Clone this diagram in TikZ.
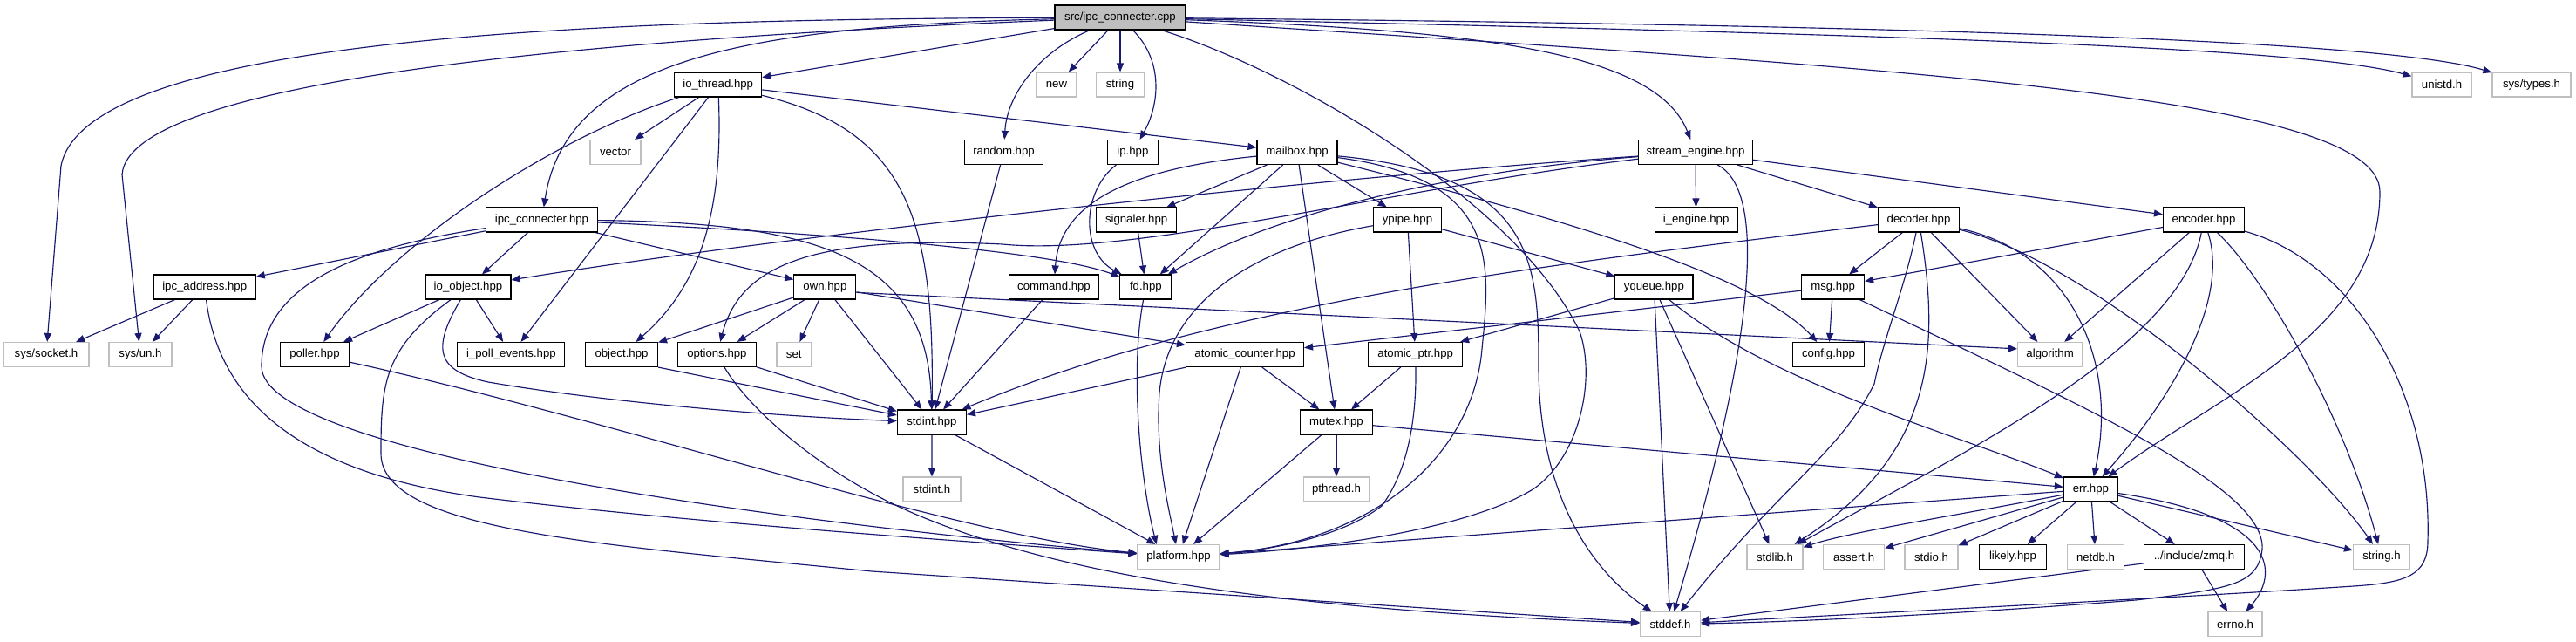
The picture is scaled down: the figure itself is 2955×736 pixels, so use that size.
\documentclass[tikz,border=0pt]{standalone}
\usepackage{fontspec}
\setmainfont{Liberation Sans}
\usetikzlibrary{arrows.meta,backgrounds}
\definecolor{edgec}{HTML}{191970}
\definecolor{sysc}{HTML}{BFBFBF}
\begin{document}
\begin{tikzpicture}[x=1pt,y=-1pt,
  box/.style={draw=black, line width=1.15pt, fill=white, minimum height=28pt, inner sep=0pt,
              font=\fontsize{13.2}{15}\selectfont},
  sys/.style={box, draw=sysc},
  root/.style={box, fill=sysc},
  e/.style={draw=edgec, line width=1.15pt, -{Triangle[length=10pt,width=8pt]}},
]
\useasboundingbox (0,0) rectangle (2955,736);
% row 0
\node[root, minimum width=150pt] (src) at (1285,20) {src/ipc\_connecter.cpp};
% row 1
\node[box, minimum width=100pt] (iothread) at (823.7,97) {io\_thread.hpp};
\node[sys, minimum width=46pt] (new) at (1212,97) {new};
\node[sys, minimum width=55pt] (string) at (1285,97) {string};
\node[sys, minimum width=68pt] (unistd) at (2801,97) {unistd.h};
\node[sys, minimum width=90pt] (systypes) at (2904,97) {sys/types.h};
% row 2
\node[sys, minimum width=58pt] (vector) at (706,174.5) {vector};
\node[box, minimum width=90pt] (random) at (1151.5,174.5) {random.hpp};
\node[box, minimum width=58pt] (ip) at (1299.4,174.5) {ip.hpp};
\node[box, minimum width=92pt] (mailbox) at (1488,174.5) {mailbox.hpp};
\node[box, minimum width=131pt] (streameng) at (1945,174.5) {stream\_engine.hpp};
% row 3
\node[box, minimum width=128pt] (ipcconnhpp) at (621.5,252) {ipc\_connecter.hpp};
\node[box, minimum width=92pt] (signaler) at (1303.6,252) {signaler.hpp};
\node[box, minimum width=78pt] (ypipe) at (1614.5,252) {ypipe.hpp};
\node[box, minimum width=95pt] (iengine) at (1945.6,252) {i\_engine.hpp};
\node[box, minimum width=93pt] (decoder) at (2201,252) {decoder.hpp};
\node[box, minimum width=93pt] (encoder) at (2528,252) {encoder.hpp};
% row 4
\node[box, minimum width=117pt] (ipcaddr) at (234.7,329) {ipc\_address.hpp};
\node[box, minimum width=98pt] (ioobject) at (537,329) {io\_object.hpp};
\node[box, minimum width=71pt] (own) at (946.4,329) {own.hpp};
\node[box, minimum width=103pt] (command) at (1209,329) {command.hpp};
\node[box, minimum width=59pt] (fd) at (1314.4,329) {fd.hpp};
\node[box, minimum width=89pt] (yqueue) at (1897.4,329) {yqueue.hpp};
\node[box, minimum width=72pt] (msg) at (2102.6,329) {msg.hpp};
% row 5
\node[sys, minimum width=98pt] (syssocket) at (53,406.5) {sys/socket.h};
\node[sys, minimum width=72pt] (sysun) at (161,406.5) {sys/un.h};
\node[box, minimum width=79pt] (poller) at (361,406.5) {poller.hpp};
\node[box, minimum width=123pt] (ipollev) at (586.4,406.5) {i\_poll\_events.hpp};
\node[box, minimum width=83pt] (object) at (713,406.5) {object.hpp};
\node[box, minimum width=90pt] (options) at (822.4,406.5) {options.hpp};
\node[sys, minimum width=39.5pt] (set) at (910.7,406.5) {set};
\node[box, minimum width=135pt] (atomiccnt) at (1428,406.5) {atomic\_counter.hpp};
\node[box, minimum width=108pt] (atomicptr) at (1623.7,406.5) {atomic\_ptr.hpp};
\node[box, minimum width=82pt] (config) at (2097.5,406.5) {config.hpp};
\node[sys, minimum width=74pt] (algorithm) at (2351.6,406.5) {algorithm};
% row 6
\node[box, minimum width=79pt] (stdinthpp) at (1068.9,484) {stdint.hpp};
\node[box, minimum width=83pt] (mutex) at (1533,484) {mutex.hpp};
% row 7
\node[sys, minimum width=66pt] (stdinth) at (1069,561) {stdint.h};
\node[sys, minimum width=75pt] (pthread) at (1533,561) {pthread.h};
\node[box, minimum width=62pt] (err) at (2398.4,561) {err.hpp};
% row 8
\node[sys, minimum width=94pt] (platform) at (1352,638.5) {platform.hpp};
\node[sys, minimum width=64pt] (stdlib) at (2036,638.5) {stdlib.h};
\node[sys, minimum width=70pt] (assert) at (2126.6,638.5) {assert.h};
\node[sys, minimum width=61pt] (stdio) at (2215.5,638.5) {stdio.h};
\node[box, minimum width=77.5pt] (likely) at (2309,638.5) {likely.hpp};
\node[sys, minimum width=65.5pt] (netdb) at (2404,638.5) {netdb.h};
\node[box, minimum width=115.5pt] (zmq) at (2517,638.5) {../include/zmq.h};
\node[sys, minimum width=65pt] (stringh) at (2732,638.5) {string.h};
% row 9
\node[sys, minimum width=69pt] (stddef) at (1916,715.7) {stddef.h};
\node[sys, minimum width=62pt] (errno) at (2564,715.7) {errno.h};

\begin{scope}[on background layer]
\fill[white] (0,0) rectangle (2955,736);
% src
\draw[e] (src) -- (new);
\draw[e] (src) -- (string);
\draw[e] (src) -- (iothread);
\draw[e] (src) .. controls (1190,60) and (1155,110) .. (random);
\draw[e] (src) .. controls (1335,70) and (1330,120) .. (ip);
\draw[e] (src) .. controls (700,22) and (100,40) .. (70,190) -- (syssocket);
\draw[e] (src) .. controls (800,40) and (150,80) .. (140,200) -- (sysun);
\draw[e] (src) .. controls (850,30) and (650,70) .. (ipcconnhpp);
\draw[e] (src) .. controls (1480,80) and (1740,230) .. (1812,380) .. controls (1830,430) and (1815,520) .. (1760,560) .. controls (1680,610) and (1500,630) .. (platform);
\draw[e] (src) .. controls (1700,35) and (1900,60) .. (streameng);
\draw[e] (src) .. controls (2200,40) and (2650,55) .. (unistd);
\draw[e] (src) .. controls (2300,30) and (2750,50) .. (systypes);
\draw[e] (src) .. controls (2200,80) and (2730,110) .. (2730,220) .. controls (2730,380) and (2550,450) .. (err);
% ipc_connecter.hpp
\draw[e] (ipcconnhpp) -- (ipcaddr);
\draw[e] (ipcconnhpp) -- (ioobject);
\draw[e] (ipcconnhpp) -- (own);
\draw[e] (ipcconnhpp) .. controls (900,265) and (1200,285) .. (fd);
\draw[e] (ipcconnhpp) .. controls (950,255) and (1065,300) .. (stdinthpp);
\draw[e] (ipcconnhpp) .. controls (400,285) and (300,330) .. (300,420) .. controls (300,520) and (900,600) .. (platform);
% ipc_address.hpp
\draw[e] (ipcaddr) -- (syssocket);
\draw[e] (ipcaddr) -- (sysun);
\draw[e] (ipcaddr) .. controls (250,450) and (330,540) .. (550,570) .. controls (800,600) and (1100,620) .. (platform);
% io_thread.hpp
\draw[e] (iothread) -- (vector);
\draw[e] (iothread) -- (mailbox);
\draw[e] (iothread) .. controls (630,160) and (450,280) .. (poller);
\draw[e] (iothread) -- (ipollev);
\draw[e] (iothread) .. controls (830,250) and (800,330) .. (object);
\draw[e] (iothread) .. controls (1040,150) and (1072,250) .. (stdinthpp);
% io_object.hpp
\draw[e] (ioobject) -- (poller);
\draw[e] (ioobject) -- (ipollev);
\draw[e] (ioobject) .. controls (495,400) and (500,425) .. (560,438) .. controls (700,462) and (900,478) .. (stdinthpp);
\draw[e] (ioobject) .. controls (440,400) and (437,440) .. (437,520) .. controls (437,610) and (700,625) .. (1000,655) -- (stddef);
% own.hpp
\draw[e] (own) -- (set);
\draw[e] (own) -- (object);
\draw[e] (own) -- (options);
\draw[e] (own) -- (stdinthpp);
\draw[e] (own) -- (atomiccnt);
\draw[e] (own.-10) -- (algorithm.170);
% object, options, poller, stdint
\draw[e] (object.south east) -- (stdinthpp);
\draw[e] (options) -- (stdinthpp);
\draw[e] (options) .. controls (860,470) and (940,540) .. (1040,585) .. controls (1220,665) and (1500,700) .. (stddef);
\draw[e] (poller) .. controls (700,480) and (1100,615) .. (platform);
\draw[e] (stdinthpp) -- (stdinth);
\draw[e] (stdinthpp) -- (platform);
% random, ip, fd, signaler, command
\draw[e] (random) -- (stdinthpp);
\draw[e] (ip) .. controls (1240,220) and (1240,290) .. (fd);
\draw[e] (fd) .. controls (1295,430) and (1310,560) .. (platform.150);
\draw[e] (signaler) -- (fd);
\draw[e] (command) -- (stdinthpp);
% mailbox.hpp
\draw[e] (mailbox) .. controls (1280,195) and (1215,240) .. (command);
\draw[e] (mailbox) -- (signaler);
\draw[e] (mailbox) -- (fd);
\draw[e] (mailbox) -- (mutex);
\draw[e] (mailbox) -- (ypipe);
\draw[e] (mailbox) .. controls (1750,240) and (2010,310) .. (config);
\draw[e] (mailbox) .. controls (1720,205) and (1710,300) .. (1700,400) .. controls (1690,520) and (1580,620) .. (platform);
\draw[e] (mailbox) .. controls (1760,200) and (1765,300) .. (1765,420) .. controls (1765,560) and (1820,650) .. (stddef);
% ypipe.hpp
\draw[e] (ypipe) -- (atomicptr);
\draw[e] (ypipe) -- (yqueue);
\draw[e] (ypipe) .. controls (1450,280) and (1340,340) .. (1330,450) .. controls (1325,520) and (1340,580) .. (platform);
% yqueue.hpp
\draw[e] (yqueue) -- (atomicptr);
\draw[e] (yqueue) -- (stddef);
\draw[e] (yqueue) -- (stdlib);
\draw[e] (yqueue) .. controls (2030,440) and (2250,500) .. (err);
% atomic_counter, atomic_ptr, mutex
\draw[e] (atomiccnt) -- (stdinthpp);
\draw[e] (atomiccnt) -- (platform);
\draw[e] (atomiccnt) -- (mutex);
\draw[e] (atomicptr) -- (mutex);
\draw[e] (atomicptr) .. controls (1625,480) and (1615,540) .. (1585,580) .. controls (1540,615) and (1460,630) .. (platform);
\draw[e] (mutex) -- (platform);
\draw[e] (mutex) -- (pthread);
\draw[e] (mutex) -- (err);
% stream_engine.hpp
\draw[e] (streameng) -- (iengine);
\draw[e] (streameng) -- (decoder);
\draw[e] (streameng) -- (encoder);
\draw[e] (streameng) .. controls (1500,205) and (900,270) .. (ioobject);
\draw[e] (streameng) .. controls (1600,215) and (1300,295) .. (1150,280) .. controls (940,270) and (850,300) .. (options);
\draw[e] (streameng) .. controls (1680,195) and (1470,240) .. (fd);
\draw[e] (streameng.-30) .. controls (2030,220) and (2010,400) .. (stddef);
% decoder.hpp
\draw[e] (decoder) -- (msg);
\draw[e] (decoder) .. controls (1800,300) and (1400,345) .. (stdinthpp);
\draw[e] (decoder) .. controls (2185,330) and (2160,390) .. (2150,440) .. controls (2110,520) and (2040,560) .. (stddef);
\draw[e] (decoder) .. controls (2225,400) and (2220,520) .. (stdlib);
\draw[e] (decoder) -- (algorithm);
\draw[e] (decoder) .. controls (2380,290) and (2430,420) .. (err);
\draw[e] (decoder) .. controls (2400,300) and (2650,520) .. (stringh);
% encoder.hpp
\draw[e] (encoder) -- (msg);
\draw[e] (encoder) -- (algorithm);
\draw[e] (encoder) .. controls (2500,400) and (2250,520) .. (stdlib);
\draw[e] (encoder) .. controls (2560,350) and (2480,470) .. (err);
\draw[e] (encoder) .. controls (2600,320) and (2690,480) .. (stringh);
\draw[e] (encoder) .. controls (2700,300) and (2790,450) .. (2785,620) .. controls (2785,660) and (2760,668) .. (2700,672) .. controls (2500,685) and (2200,700) .. (stddef);
% msg.hpp
\draw[e] (msg) -- (config);
\draw[e] (msg) -- (atomiccnt);
\draw[e] (msg) .. controls (2400,470) and (2600,560) .. (2595,630) .. controls (2590,670) and (2560,675) .. (2450,688) .. controls (2300,700) and (2100,712) .. (stddef);
% err.hpp
\draw[e] (err) -- (platform);
\draw[e] (err) .. controls (2250,590) and (2120,610) .. (stdlib);
\draw[e] (err) -- (assert);
\draw[e] (err) -- (stdio);
\draw[e] (err) -- (likely);
\draw[e] (err) -- (netdb);
\draw[e] (err) -- (zmq);
\draw[e] (err) -- (stringh);
\draw[e] (err) .. controls (2600,590) and (2620,650) .. (errno);
% zmq.h
\draw[e] (zmq) -- (errno);
\draw[e] (zmq) -- (stddef);
\end{scope}
\end{tikzpicture}
\end{document}
